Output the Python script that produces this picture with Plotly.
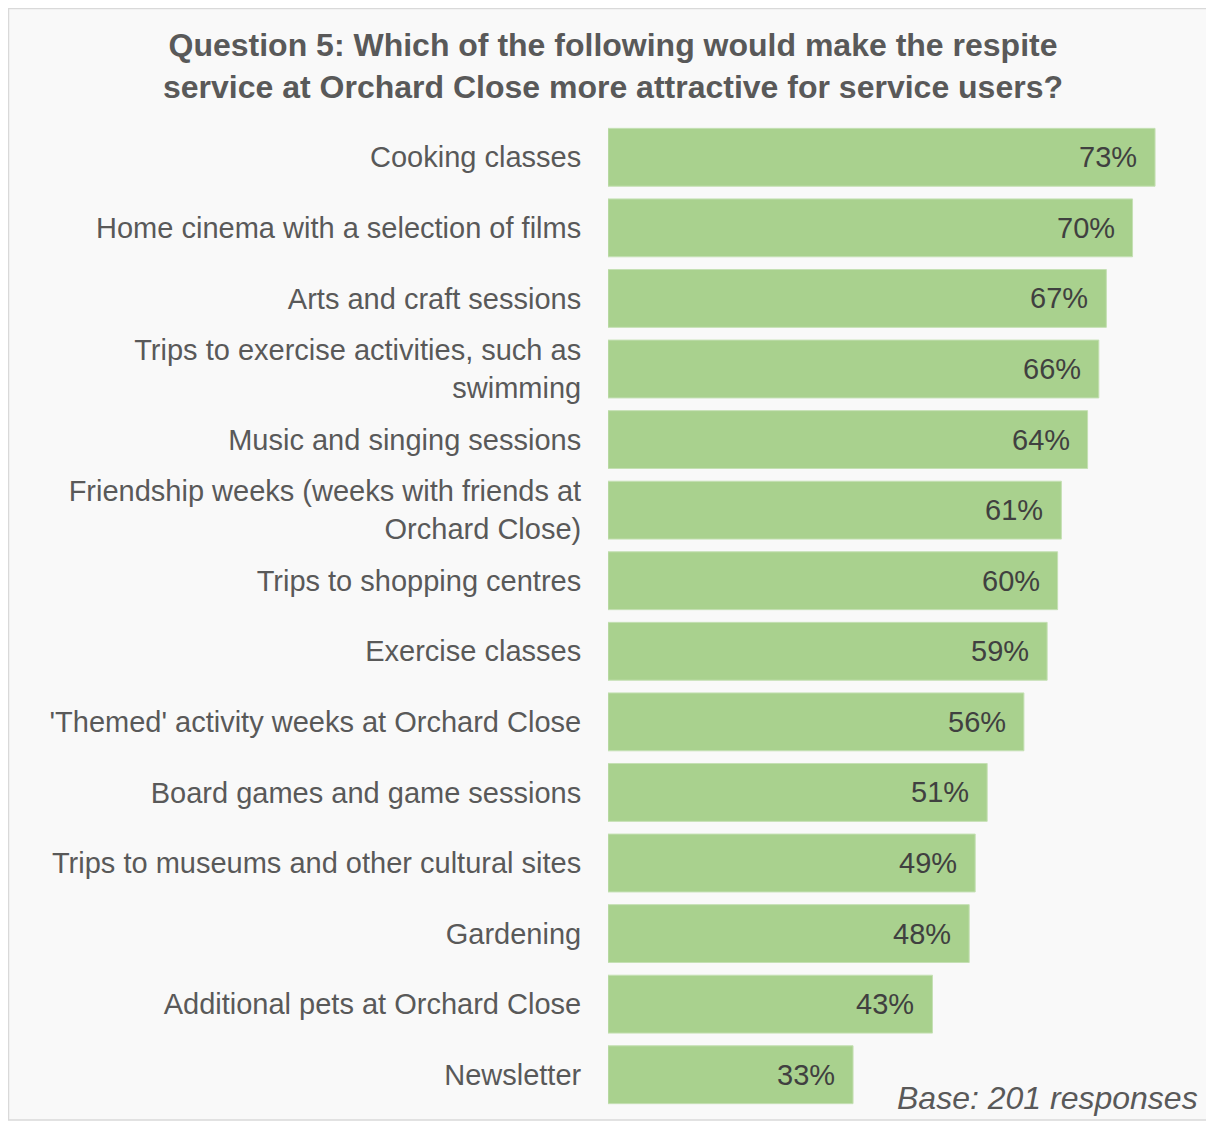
import plotly.graph_objects as go

categories = [
    "Cooking classes",
    "Home cinema with a selection of films",
    "Arts and craft sessions",
    "Trips to exercise activities, such as<br>swimming",
    "Music and singing sessions",
    "Friendship weeks (weeks with friends at<br>Orchard Close)",
    "Trips to shopping centres",
    "Exercise classes",
    "'Themed' activity weeks at Orchard Close",
    "Board games and game sessions",
    "Trips to museums and other cultural sites",
    "Gardening",
    "Additional pets at Orchard Close",
    "Newsletter",
]
values = [73.0, 70.0, 66.5, 65.5, 64.0, 60.5, 60.0, 58.6, 55.5, 50.6, 49.0, 48.2, 43.3, 32.7]
value_labels = ["73%", "70%", "67%", "66%", "64%", "61%", "60%", "59%", "56%",
                "51%", "49%", "48%", "43%", "33%"]

OFF = 8  # page body margin
W, H = 1206, 1114
L, R, T, B = 600, 14, 114, 12
pw, ph = W - L - R, H - T - B
FONT = "Liberation Sans, Arial, sans-serif"

def px(x):
    return (x - OFF - L) / pw

def py(y):
    return (H - B - (y - OFF)) / ph

fig = go.Figure(go.Bar(
    y=categories,
    x=values,
    orientation="h",
    marker=dict(color="#a9d18e", line=dict(color="#c5e0b4", width=1)),
    hoverinfo="y",
))

annotations = [
    dict(
        x=v, y=c, text=t, xref="x", yref="y",
        xanchor="right", yanchor="middle", xshift=-16, showarrow=False,
        font=dict(family=FONT, size=29, color="#404040"),
    )
    for c, v, t in zip(categories, values, value_labels)
]
annotations += [
    dict(
        text="<b>Question 5: Which of the following would make the respite<br>service at Orchard Close more attractive for service users?</b>",
        xref="paper", yref="paper", x=px(613), y=py(66),
        xanchor="center", yanchor="middle", showarrow=False,
        font=dict(family=FONT, size=32, color="#595959"),
    ),
    dict(
        text="<i>Base: 201 responses</i>",
        xref="paper", yref="paper", x=px(1200), y=py(1098),
        xanchor="right", yanchor="middle", showarrow=False,
        font=dict(family=FONT, size=32, color="#595959"),
    ),
]

fig.update_layout(
    width=W, height=H,
    margin=dict(l=L, r=R, t=T, b=B),
    paper_bgcolor="white",
    plot_bgcolor="rgba(0,0,0,0)",
    bargap=0.18,
    showlegend=False,
    xaxis=dict(range=[0, 79], visible=False, fixedrange=True),
    yaxis=dict(
        autorange="reversed",
        showgrid=False, showline=False, zeroline=False,
        ticks="outside", ticklen=20, tickcolor="rgba(0,0,0,0)",
        tickfont=dict(family=FONT, size=29, color="#595959"),
    ),
    shapes=[dict(
        type="rect", xref="paper", yref="paper", layer="below",
        x0=px(8.5), x1=px(1212), y0=py(1120), y1=py(8.5),
        fillcolor="#f9f9f9", line=dict(color="#d9d9d9", width=1.5),
    )],
    annotations=annotations,
)

fig.write_html("out.html")
